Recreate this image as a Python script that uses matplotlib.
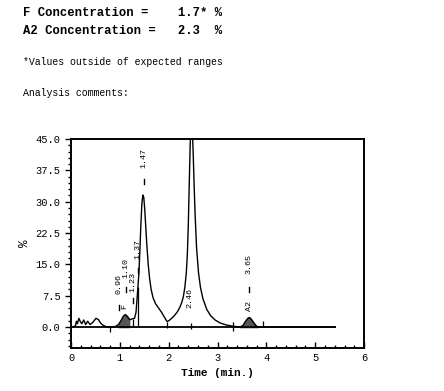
import matplotlib.pyplot as plt
from matplotlib.ticker import MultipleLocator
import numpy as np

# chromatogram trace (time in min, signal in %)
time = [0.00, 0.05, 0.09, 0.11, 0.13, 0.16, 0.19, 0.22, 0.26, 0.30, 0.34,
        0.39, 0.45, 0.51, 0.56, 0.61, 0.66, 0.72, 0.78, 0.85, 0.92, 0.97,
        1.02, 1.07, 1.11, 1.15, 1.19, 1.22, 1.26, 1.30, 1.33, 1.35, 1.37,
        1.39, 1.41, 1.43, 1.45, 1.47, 1.49, 1.51, 1.53, 1.55, 1.58, 1.61,
        1.64, 1.68, 1.73, 1.79, 1.85, 1.90, 1.94, 1.97, 2.01, 2.06, 2.12,
        2.18, 2.23, 2.27, 2.30, 2.33, 2.36, 2.38, 2.40, 2.42, 2.44, 2.46,
        2.48, 2.50, 2.52, 2.54, 2.57, 2.61, 2.65, 2.70, 2.78, 2.86, 2.95,
        3.05, 3.18, 3.32, 3.46, 3.52, 3.58, 3.62, 3.65, 3.68, 3.73, 3.78,
        3.83, 4.00, 4.50, 5.00, 5.41]
signal = [0.0, 0.1, 0.3, 1.4, 0.8, 2.1, 1.3, 0.8, 1.7, 0.6, 1.4,
          0.6, 1.2, 2.1, 1.8, 0.9, 0.4, 0.1, 0.0, 0.0, 0.2, 0.6,
          1.5, 2.6, 3.0, 2.6, 1.9, 1.8, 2.0, 2.1, 3.5, 6.5, 9.7,
          13.0, 18.5, 24.5, 29.5, 31.6, 31.0, 28.0, 24.0, 20.0, 15.0, 11.5,
          9.0, 7.0, 5.6, 4.6, 3.6, 2.6, 1.8, 1.3, 1.6, 2.1, 2.8,
          3.7, 4.8, 6.0, 7.3, 9.5, 13.0, 17.0, 24.0, 34.0, 44.0, 49.0,
          48.0, 42.0, 34.0, 27.0, 19.0, 13.0, 9.5, 6.8, 4.2, 2.7, 1.7,
          1.0, 0.5, 0.2, 0.0, 0.4, 1.5, 2.1, 2.3, 2.0, 1.2, 0.4,
          0.0, 0.0, 0.0, 0.0, 0.0]

# integrated (shaded) peaks: F and A2
shaded = [(0.97, 1.21), (3.46, 3.83)]

# peak labels: retention time, label, peak name
peak_times = [0.96, 1.10, 1.23, 1.37, 1.47, 2.46, 3.65]
peak_labels = ["0.96", "1.10", "1.23", "1.37", "1.47", "2.46", "3.65"]
peak_names = {1.10: "F", 3.65: "A2"}

# baseline event marks
event_times = [0.80, 1.26, 1.37, 1.96, 2.46, 3.31, 3.94]

header = ["F Concentration =    1.7* %",
          "A2 Concentration =   2.3  %"]
note = "*Values outside of expected ranges"
comment = "Analysis comments:"

mono = "Liberation Mono"

fig = plt.figure(figsize=(4.44, 3.91), dpi=100)
ax = fig.add_axes([0.16, 0.11, 0.66, 0.5345])

t = np.array(time)
s = np.array(signal)
ax.plot(t, s, color="black", lw=1.0)
ax.plot([0, time[-1]], [0, 0], color="black", lw=1.3)
for a, b in shaded:
    m = (t >= a) & (t <= b)
    ax.fill_between(t[m], 0, s[m], color="#555555")

# event marks on the baseline
ev_lo = [-1.2, 0.0, 0.0, -0.2, -0.5, -1.0, 0.0]
ev_hi = [0.2, 2.0, 9.7, 1.3, 1.0, 1.2, 1.4]
ax.vlines(event_times, ev_lo, ev_hi, color="black", lw=0.9)

# peak annotations (rotated labels with a small dash)
lab_x = [0.98, 1.13, 1.27, 1.37, 1.49, 2.44, 3.65]
lab_y = [10.3, 14.2, 10.9, 18.8, 40.5, 6.9, 15.0]
dash_y = [4.6, 9.0, 6.3, 13.5, 34.9, None, 9.1]
for x, y, d, lab, rt in zip(lab_x, lab_y, dash_y, peak_labels, peak_times):
    ax.text(x, y, lab, rotation=90, ha="center", va="center",
            fontsize=6, family=mono)
    if d is not None:
        ax.plot([x, x], [d - 0.6, d + 0.6], color="black", lw=1.0)
    if rt in peak_names:
        ax.text(rt, 5.0, peak_names[rt], rotation=90, ha="center",
                va="center", fontsize=6, family=mono)

ax.set_xlim(0, 6)
ax.set_ylim(-5, 45)
ax.xaxis.set_major_locator(MultipleLocator(1))
ax.xaxis.set_minor_locator(MultipleLocator(0.2))
ax.yaxis.set_major_locator(MultipleLocator(7.5))
ax.yaxis.set_minor_locator(MultipleLocator(1.5))
ax.yaxis.set_major_formatter(plt.FormatStrFormatter("%.1f"))
ax.tick_params(axis="x", which="major", direction="in", length=4.5, width=1)
ax.tick_params(axis="x", which="minor", direction="in", length=2.5, width=1)
ax.tick_params(axis="y", which="major", direction="out", length=4, width=1)
ax.tick_params(axis="y", which="minor", direction="out", length=2.5, width=1)
for lab in ax.get_xticklabels() + ax.get_yticklabels():
    lab.set_family(mono)
    lab.set_fontsize(7.5)
for sp in ax.spines.values():
    sp.set_linewidth(1.4)

ax.set_xlabel("Time (min.)", family=mono, fontweight="bold", fontsize=8)
ax.set_ylabel("%", family=mono, fontsize=9, labelpad=3)

fig.text(0.052, 0.967, header[0], family=mono, fontweight="bold",
         fontsize=8.8, va="center")
fig.text(0.052, 0.921, header[1], family=mono, fontweight="bold",
         fontsize=8.8, va="center")
fig.text(0.052, 0.841, note, family=mono, fontsize=7.1, va="center")
fig.text(0.052, 0.762, comment, family=mono, fontsize=7.1, va="center")

fig.savefig("out.png", dpi=100)
